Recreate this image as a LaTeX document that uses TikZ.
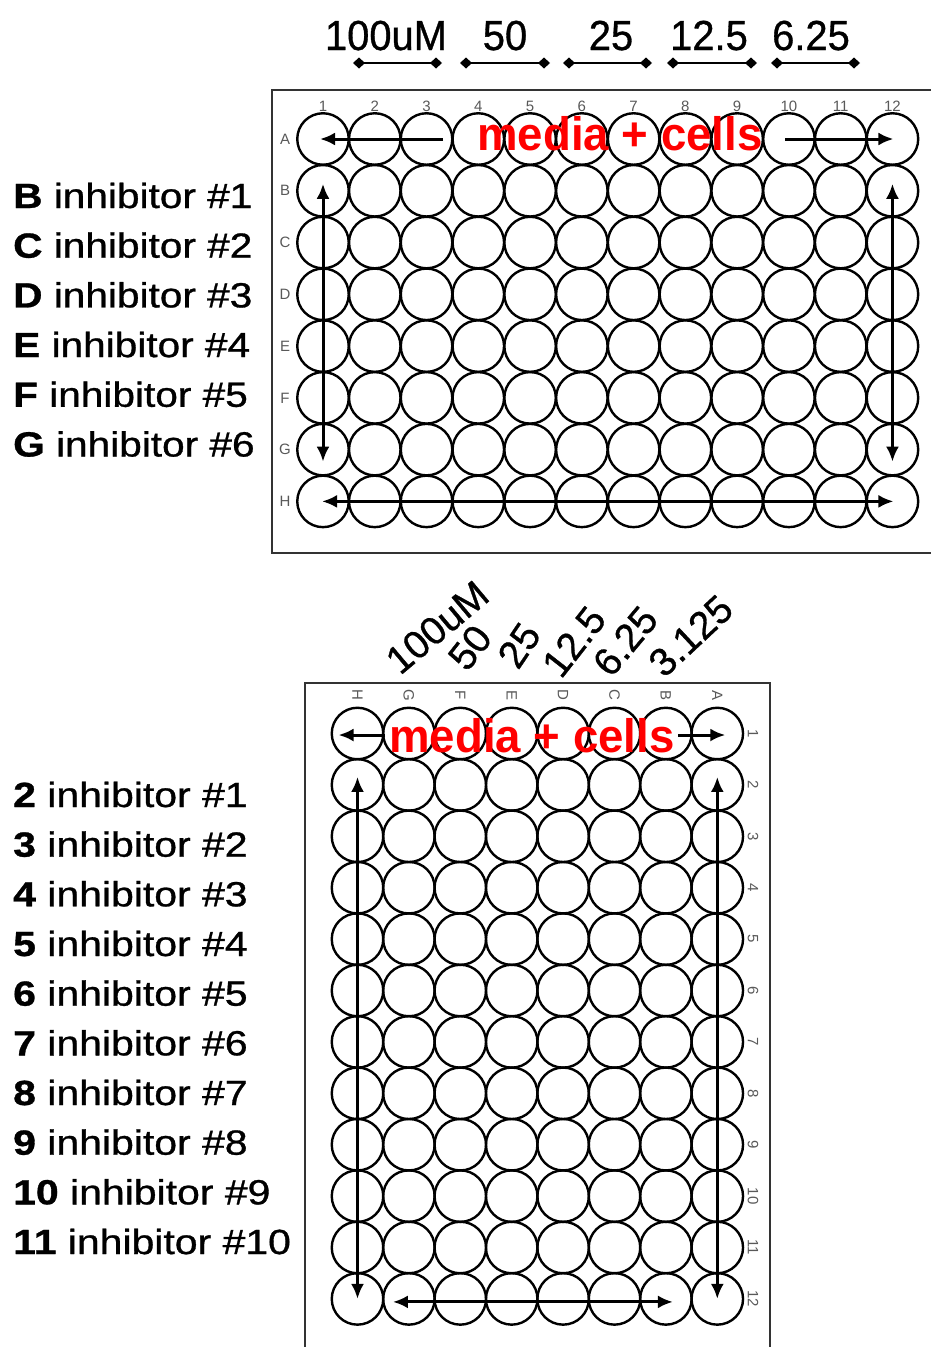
\documentclass[tikz,border=0pt]{standalone}
\usepackage{fontspec}
\usepackage{graphicx}
\setmainfont{Liberation Sans}
\newfontfamily\heavyfont{Liberation Sans}[FakeBold=0.8]
\usetikzlibrary{arrows.meta}
\begin{document}
\begin{tikzpicture}[x=1pt,y=-1pt,
  well/.style={circle,draw=black,line width=2.4pt,minimum size=51.5pt,inner sep=0pt},
  plate/.style={draw=black!80,line width=2.6pt},
  tiny/.style={text=black!65,font=\fontsize{15}{15}\selectfont,inner sep=0pt},
  arr/.style={line width=3pt,-{Latex[length=15pt,width=13pt]}},
  darr/.style={line width=3pt,{Latex[length=15pt,width=13pt]}-{Latex[length=15pt,width=13pt]}},
  dbar/.style={line width=2.6pt,{Turned Square[length=12pt,width=11pt]}-{Turned Square[length=12pt,width=11pt]}},
  side/.style={anchor=base west,inner sep=0pt,font=\heavyfont\fontsize{35}{40}\selectfont},
  head/.style={anchor=base,inner sep=0pt,font=\heavyfont\fontsize{42}{48}\selectfont},
  rot/.style={anchor=base west,inner sep=0pt,font=\heavyfont\fontsize{39}{44}\selectfont},
  media/.style={anchor=base,inner sep=0pt,text=red,font=\bfseries\fontsize{47}{52}\selectfont}
]
\fill[white] (0,0) rectangle (931,1347);
\useasboundingbox (0,0) rectangle (931,1347);

% ---------- top plate ----------
\draw[plate] (272,90) rectangle (945,553);
\foreach \c in {1,...,12}
  \node[tiny] (TC\c) at ({323+(\c-1)*51.77},106) {\c};
\foreach \R [count=\r from 0] in {A,B,C,D,E,F,G,H} {
  \node[tiny] (TR\R) at (285,{139+\r*51.77}) {\R};
  \foreach \c in {1,...,12}
    \node[well] (T\R\c) at ({323+(\c-1)*51.77},{139+\r*51.77}) {};
}

% header concentrations
\node[head] (h1) at (386,50) {\scalebox{0.95}[1]{100uM}};
\node[head] (h2) at (505,50) {\scalebox{0.95}[1]{50}};
\node[head] (h3) at (611,50) {\scalebox{0.95}[1]{25}};
\node[head] (h4) at (709,50) {\scalebox{0.95}[1]{12.5}};
\node[head] (h5) at (811,50) {\scalebox{0.95}[1]{6.25}};
\coordinate (b1l) at (353,63); \coordinate (b1r) at (442,63);
\coordinate (b2l) at (460,63); \coordinate (b2r) at (550,63);
\coordinate (b3l) at (563,63); \coordinate (b3r) at (652,63);
\coordinate (b4l) at (667,63); \coordinate (b4r) at (757,63);
\coordinate (b5l) at (771,63); \coordinate (b5r) at (860,63);
\foreach \k in {1,...,5} \draw[dbar] (b\k l) -- (b\k r);

% left labels (top)
\foreach \a/\b [count=\i from 0] in {B/1,C/2,D/3,E/4,F/5,G/6}
  \node[side] (L\a) at (13,{208+\i*49.7}) {\scalebox{1.16}[1]{\textbf{\a} inhibitor \#\b}};

% arrows (top)
\coordinate (ta1) at (443,139);
\coordinate (ta2) at (785,139);
\draw[arr] (ta1) -- ([xshift=-3pt]TA1.center);
\draw[arr] (ta2) -- ([xshift=1pt]TA12.center);
\draw[darr] ([yshift=7pt]TB1.center) -- ([yshift=-12pt]TG1.center);
\draw[darr] ([yshift=7pt]TB12.center) -- ([yshift=-12pt]TG12.center);
\draw[darr] ([xshift=-1pt]TH1.center) -- ([xshift=1pt]TH12.center);
\node[media] (m1) at (620,150) {\scalebox{0.97}[1]{media + cells}};

% ---------- bottom plate ----------
\draw[plate] (305,683) rectangle (770,1360);
\foreach \R [count=\k from 0] in {H,G,F,E,D,C,B,A} {
  \node[tiny,rotate=-90] (BC\R) at ({357.5+\k*51.4},695) {\R};
  \foreach \n in {1,...,12}
    \node[well] (B\R\n) at ({357.5+\k*51.4},{733.5+(\n-1)*51.4}) {};
}
\foreach \n in {1,...,12}
  \node[tiny,rotate=-90] (BN\n) at (753,{733.5+(\n-1)*51.4}) {\n};

% rotated concentrations
\node[rot,rotate=40] (r1) at (400,676) {100uM};
\node[rot,rotate=52] (r2) at (467,673) {50};
\node[rot,rotate=56] (r3) at (518,671) {25};
\node[rot,rotate=52] (r4) at (561,680) {12.5};
\node[rot,rotate=50] (r5) at (611,679) {6.25};
\node[rot,rotate=43] (r6) at (664,679) {3.125};

% left labels (bottom)
\foreach \a/\b [count=\i from 0] in {2/1,3/2,4/3,5/4,6/5,7/6,8/7,9/8,10/9,11/10}
  \node[side] (N\a) at (13,{807+\i*49.67}) {\scalebox{1.17}[1]{\textbf{\a} inhibitor \#\b}};

% arrows (bottom)
\coordinate (ba1) at (385,735);
\coordinate (ba2) at (678,735);
\draw[arr] (ba1) -- ([xshift=-19pt,yshift=-1.5pt]BH1.center);
\draw[arr] (ba2) -- ([xshift=8pt,yshift=-1.5pt]BA1.center);
\draw[darr] ([yshift=8pt]BH2.center) -- (BH12.center);
\draw[darr] ([yshift=8pt]BA2.center) -- (BA12.center);
\draw[darr] ([xshift=-16pt,yshift=-3pt]BG12.center) -- ([xshift=7pt,yshift=-3pt]BB12.center);
\node[media] (m2) at (532,752) {\scalebox{0.97}[1]{media + cells}};
\end{tikzpicture}
\end{document}
